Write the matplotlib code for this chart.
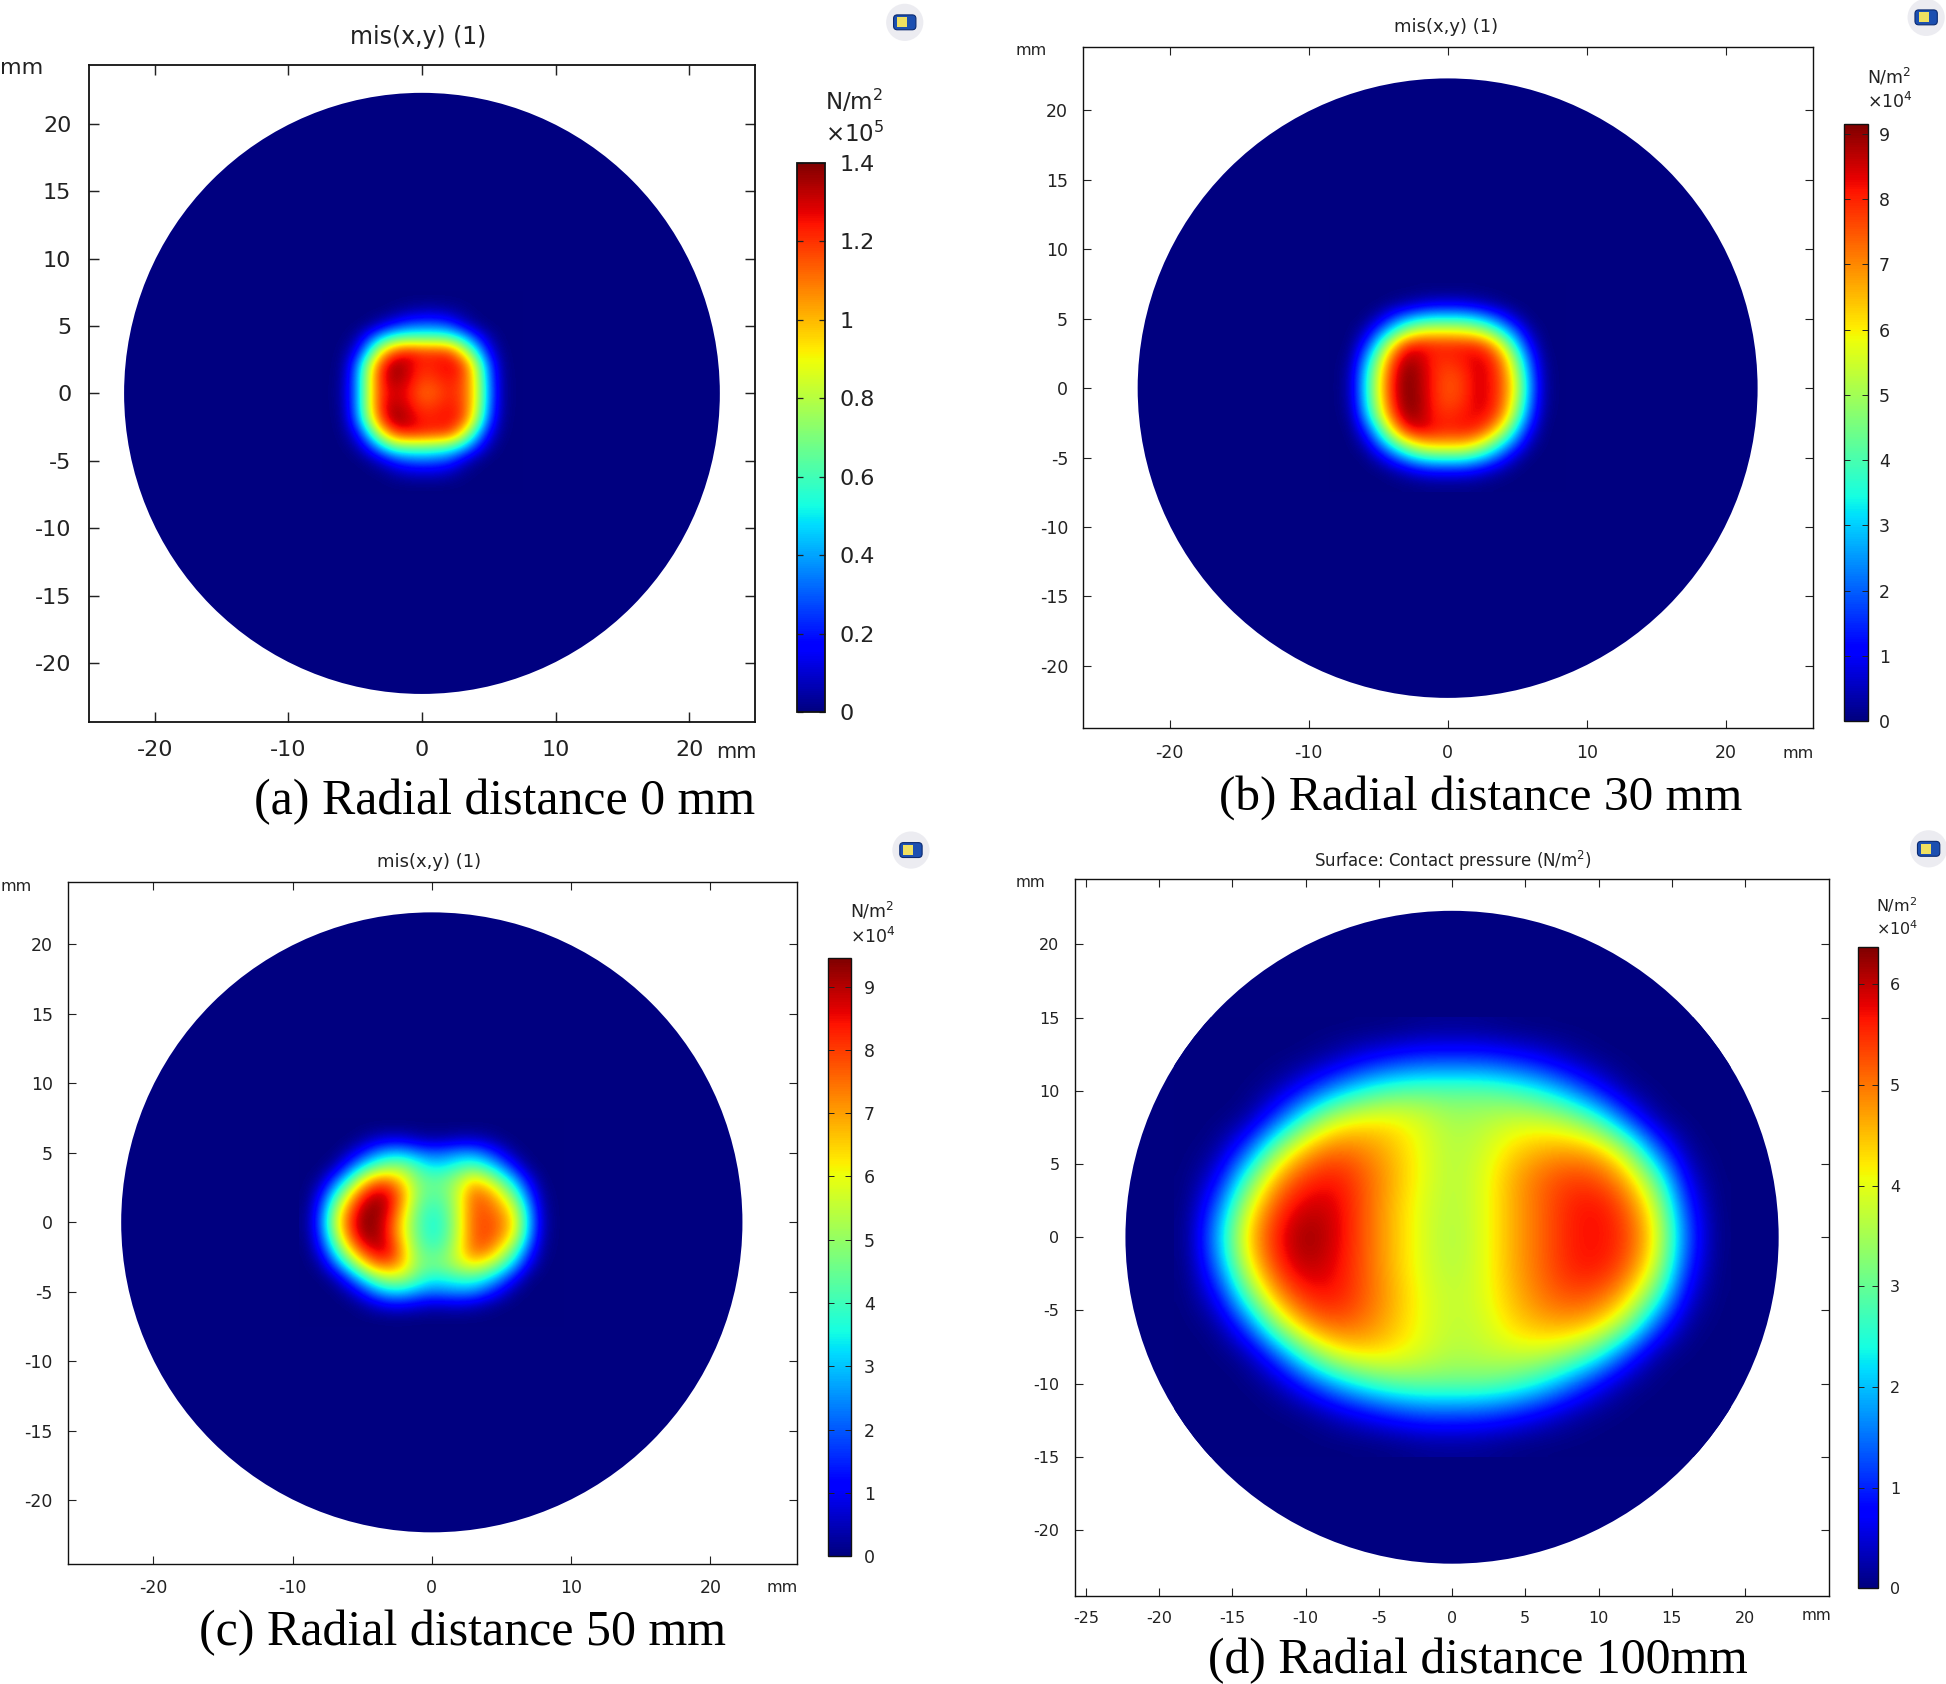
import matplotlib
matplotlib.use("Agg")
import numpy as np
import matplotlib.pyplot as plt
from matplotlib import patches

plt.rcParams["axes.unicode_minus"] = False

# pressure fields, rows run from top (+y) to bottom (-y)
x_a = list(range(-7, 8))
y_a = list(range(7, -8, -1))
field_a = [
    [0,0,0,0,0,0,0,0,0,0,0,0,0,0,0],
    [0,0,0,0,0,.02,.05,.07,.07,.05,.02,0,0,0,0],
    [0,0,0,.02,.1,.2,.28,.3,.3,.25,.12,.03,0,0,0],
    [0,0,.04,.25,.5,.65,.68,.68,.68,.65,.5,.25,.06,0,0],
    [0,.01,.14,.52,.95,1.18,1.25,1.2,1.2,1.18,.92,.55,.16,.01,0],
    [0,.02,.28,.8,1.22,1.38,1.3,1.22,1.24,1.28,1.2,.82,.3,.02,0],
    [0,.03,.32,.85,1.25,1.36,1.28,1.18,1.2,1.24,1.18,.88,.34,.03,0],
    [0,.04,.32,.85,1.22,1.3,1.24,1.12,1.14,1.22,1.16,.9,.36,.03,0],
    [0,.03,.32,.85,1.25,1.34,1.27,1.18,1.2,1.24,1.18,.88,.34,.03,0],
    [0,.02,.28,.78,1.2,1.38,1.32,1.24,1.24,1.26,1.18,.8,.28,.02,0],
    [0,.01,.14,.5,.92,1.18,1.24,1.22,1.2,1.18,.92,.52,.15,.01,0],
    [0,0,.04,.22,.48,.68,.7,.7,.68,.62,.48,.24,.05,0,0],
    [0,0,0,.03,.12,.24,.3,.32,.3,.26,.12,.03,0,0,0],
    [0,0,0,0,.01,.05,.08,.09,.09,.06,.02,0,0,0,0],
    [0,0,0,0,0,0,0,0,0,0,0,0,0,0,0],
]

x_b = list(range(-8, 9))
y_b = list(range(7, -8, -1))
field_b = [
    [0,0,0,0,0,0,.01,.02,.02,.02,.01,0,0,0,0,0,0],
    [0,0,0,0,.15,.35,.6,.8,.85,.8,.6,.35,.12,0,0,0,0],
    [0,0,.02,.5,1.5,2.4,3,3.3,3.3,3.3,3,2.3,1.4,.45,.02,0,0],
    [0,0,.45,1.9,3.5,5,5.8,6,6,5.9,5.6,4.8,3.4,1.8,.35,0,0],
    [0,.05,1.3,3.5,6,7.9,8.2,8,8,8,8,7.3,5.6,3.2,1,.03,0],
    [0,.2,2.2,4.8,7.4,8.8,8.6,8,7.9,8.1,8.4,8.2,6.9,4.4,1.7,.12,0],
    [0,.35,2.8,5.4,7.9,9.1,8.8,8,7.6,7.8,8.4,8.3,7.3,5.1,2.1,.22,0],
    [0,.4,2.9,5.6,8,9.15,8.8,8,7.5,7.7,8.4,8.3,7.4,5.4,2.3,.25,0],
    [0,.35,2.8,5.4,7.9,9.1,8.9,8,7.6,7.8,8.4,8.3,7.3,5.1,2.1,.22,0],
    [0,.2,2.3,4.9,7.4,8.9,8.8,8.1,7.9,8.1,8.3,8.1,6.9,4.4,1.7,.12,0],
    [0,.05,1.3,3.5,6,8,8.5,8.2,8,8.1,8,7.2,5.5,3.1,1,.03,0],
    [0,0,.45,2,3.8,5.4,6.4,6.7,6.7,6.7,6.2,5,3.4,1.8,.35,0,0],
    [0,0,.03,.6,1.6,2.7,3.5,3.9,3.9,3.9,3.4,2.6,1.5,.45,.02,0,0],
    [0,0,0,.02,.25,.6,1,1.2,1.2,1.2,1,.6,.25,.02,0,0,0],
    [0,0,0,0,0,.02,.05,.08,.08,.08,.05,.02,0,0,0,0,0],
]

x_c = list(range(-9, 10))
y_c = list(range(7, -8, -1))
field_c = [
    [0,0,0,0,0,0,0,0,0,0,0,0,0,0,0,0,0,0,0],
    [0,0,0,0,.2,.55,.75,.7,.45,.3,.35,.5,.5,.35,.1,0,0,0,0],
    [0,0,0,.45,1.3,2.3,2.9,2.9,2.4,2.1,2.2,2.5,2.5,1.9,1,.2,0,0,0],
    [0,0,.4,1.7,3.3,4.4,5,4.9,4.1,3.4,3.5,4,4.3,3.7,2.6,1.2,.15,0,0],
    [0,.3,1.8,3.8,5.9,7.4,7.4,6.3,4.8,4.4,4.6,5.4,6.5,5.8,4.5,2.9,1,.05,0],
    [0,1,3.4,5.8,8,9,8.6,7,5,4.3,4.6,5.8,7.5,7.3,6.1,4.3,1.9,.2,0],
    [.05,1.6,4.7,7.2,9,9.4,8.6,6.6,4.6,3.9,4.3,5.8,7.6,7.7,7,5.6,2.7,.35,0],
    [.1,1.9,5.2,7.7,9.3,9.3,8.2,6.1,4.4,3.6,4.1,5.8,7.6,7.9,7.4,6.1,3,.45,0],
    [.05,1.6,4.6,7.3,9,9.3,8.2,6.2,4.5,3.7,4.2,5.8,7.6,7.9,7.2,5.7,2.7,.35,0],
    [0,1,3.4,5.9,7.9,8.8,8.6,6.7,4.8,4.2,4.6,6,7.5,7.4,6.1,4.3,1.8,.2,0],
    [0,.3,1.9,3.9,5.9,7.4,7.6,6.6,5,4.6,4.9,5.6,6.2,5.6,4.5,2.8,.9,.05,0],
    [0,0,.4,1.7,3.3,4.7,5.4,5.2,4.3,3.6,3.7,4,4,3.5,2.4,1.1,.1,0,0],
    [0,0,0,.4,1.3,2.4,3.1,3.1,2.6,2.3,2.4,2.5,2.4,1.7,.9,.15,0,0,0],
    [0,0,0,0,.2,.6,.9,.9,.7,.5,.55,.6,.45,.25,.05,0,0,0,0],
    [0,0,0,0,0,0,0,0,0,0,0,0,0,0,0,0,0,0,0],
]

x_d = list(range(-18, 19, 2))
y_d = list(range(14, -15, -2))
field_d = [
    [0,0,0,0,0,0,0,.02,.08,.1,.08,.02,0,0,0,0,0,0,0],
    [0,0,0,0,.05,.3,.7,1,1.2,1.2,1.2,1,.7,.3,.05,0,0,0,0],
    [0,0,0,.2,.9,1.8,2.5,2.9,3,3,3,2.8,2.4,1.7,.8,.1,0,0,0],
    [0,0,.1,1.2,2.8,3.9,4.2,4.2,3.9,3.5,3.6,3.8,3.8,3.5,2.7,1.2,.1,0,0],
    [0,.1,1.2,3.3,4.6,5.1,4.9,4.5,4,3.6,3.8,4.3,4.6,4.7,4.5,3.4,1.3,.1,0],
    [0,.6,2.8,4.7,5.5,5.7,5.2,4.6,4,3.6,3.9,4.6,5.1,5.4,5.3,4.6,2.9,.5,0],
    [0,1.4,3.9,5.4,6,5.9,5.2,4.5,3.9,3.6,3.9,4.6,5.1,5.6,5.75,5.2,3.8,1,0],
    [.02,1.9,4.4,5.7,6.33,5.9,5.2,4.5,3.9,3.55,3.9,4.6,5.1,5.6,5.75,5.4,4.1,1.3,0],
    [0,1.5,4,5.5,6.1,5.8,5.2,4.5,3.9,3.6,3.9,4.6,5.1,5.6,5.7,5.2,3.8,1,0],
    [0,.7,2.9,4.8,5.6,5.7,5.2,4.6,4,3.7,3.9,4.5,5,5.3,5.2,4.5,2.8,.5,0],
    [0,.1,1.3,3.4,4.8,5.2,5,4.5,4,3.7,3.8,4.3,4.6,4.7,4.4,3.3,1.2,.1,0],
    [0,0,.15,1.3,2.9,4,4.3,4.2,3.9,3.6,3.7,3.8,3.8,3.4,2.6,1.1,.1,0,0],
    [0,0,0,.2,1,1.9,2.6,3,3.1,3.1,3.1,2.9,2.4,1.6,.7,.1,0,0,0],
    [0,0,0,0,.05,.35,.7,1.05,1.3,1.3,1.25,1,.65,.25,.05,0,0,0,0],
    [0,0,0,0,0,0,0,.03,.1,.12,.1,.03,0,0,0,0,0,0,0],
]

# colour scale maxima, in the unit of each bar
scale_max = [1.4, 9.15, 9.45, 6.37]
bar_ticks_a = [0, 0.2, 0.4, 0.6, 0.8, 1, 1.2, 1.4]
bar_labels_a = ["0", "0.2", "0.4", "0.6", "0.8", "1", "1.2", "1.4"]
bar_ticks_b = [0, 1, 2, 3, 4, 5, 6, 7, 8, 9]
bar_ticks_d = [0, 1, 2, 3, 4, 5, 6]

titles = ["mis(x,y) (1)", "mis(x,y) (1)", "mis(x,y) (1)", "Surface: Contact pressure (N/m$^{2}$)"]
captions = ["(a) Radial distance 0 mm", "(b) Radial distance 30 mm",
            "(c) Radial distance 50 mm", "(d) Radial distance 100mm"]
exponents = ["5", "4", "4", "4"]

RADIUS = 22.3
W, H = 1946, 1684
SX, SY = W / 1568.0, H / 1357.0

fig = plt.figure(figsize=(W / 100.0, H / 100.0), dpi=100, facecolor="white")


def px_axes(x0, y0, x1, y1):
    # positions are taken in the coordinates of the shrunk reference
    return fig.add_axes([x0 * SX / W, 1 - y1 * SY / H, (x1 - x0) * SX / W, (y1 - y0) * SY / H])


def draw_panel(box, xlim, ylim, xs, ys, field, vmax, xticks, yticks, fs, lw, ticklen, pad):
    ax = px_axes(*box)
    cmap = plt.get_cmap("jet")
    disc = patches.Circle((0, 0), RADIUS, facecolor=cmap(0.0), edgecolor="none", zorder=1)
    ax.add_patch(disc)
    dx = abs(xs[1] - xs[0])
    dy = abs(ys[1] - ys[0])
    im = ax.imshow(np.array(field, dtype=float), cmap=cmap, vmin=0, vmax=vmax,
                   extent=(xs[0] - dx / 2, xs[-1] + dx / 2, ys[-1] - dy / 2, ys[0] + dy / 2),
                   origin="upper", aspect="auto", interpolation="bicubic",
                   interpolation_stage="data", zorder=2)
    im.set_clip_path(disc)
    ax.set_xlim(*xlim)
    ax.set_ylim(*ylim)
    ax.set_xticks(xticks)
    ax.set_yticks(yticks)
    ax.tick_params(direction="in", top=True, right=True, length=ticklen, width=lw * 0.8,
                   labelsize=fs, pad=pad, colors="#222222")
    for s in ax.spines.values():
        s.set_linewidth(lw)
        s.set_color("#111111")
    return ax, im


def draw_bar(box, im, ticks, labels, fs, lw, pad):
    cax = px_axes(*box)
    cb = fig.colorbar(im, cax=cax)
    cb.set_ticks(ticks)
    cb.set_ticklabels(labels)
    cax.tick_params(direction="in", left=True, right=True, length=4, width=lw * 0.7,
                    labelsize=fs, pad=pad, colors="#222222")
    cb.outline.set_linewidth(lw)
    cb.outline.set_edgecolor("#111111")


ticks20 = [-20, -10, 0, 10, 20]
yticks = list(range(-20, 21, 5))

ax_a, im_a = draw_panel((72, 52, 608, 582), (-24.9, 24.9), (-24.4, 24.4), x_a, y_a, field_a,
                        scale_max[0], ticks20, yticks, 16, 1.3, 7, 13)
ax_b, im_b = draw_panel((873, 38, 1461, 587), (-26.2, 26.3), (-24.5, 24.55), x_b, y_b, field_b,
                        scale_max[1], ticks20, yticks, 12.5, 1.0, 6, 11)
ax_c, im_c = draw_panel((55, 711, 642, 1260), (-26.1, 26.2), (-24.55, 24.46), x_c, y_c, field_c,
                        scale_max[2], ticks20, yticks, 12.5, 1.0, 6, 11)
ax_d, im_d = draw_panel((866, 708, 1474, 1286), (-25.76, 25.76), (-24.5, 24.5), x_d, y_d, field_d,
                        scale_max[3], list(range(-25, 21, 5)), yticks, 11.5, 1.0, 6, 11)

draw_bar((642, 131, 665, 574), im_a, bar_ticks_a, bar_labels_a, 16, 1.3, 10)
draw_bar((1486, 100, 1505, 581), im_b, bar_ticks_b, [str(t) for t in bar_ticks_b], 12.5, 1.0, 8)
draw_bar((667, 772, 686, 1254), im_c, bar_ticks_b, [str(t) for t in bar_ticks_b], 12.5, 1.0, 9)
draw_bar((1497, 763, 1513, 1280), im_d, bar_ticks_d, [str(t) for t in bar_ticks_d], 11.5, 1.0, 9)

# overlay in shrunk-reference coordinates for the free text and the little logos
ov = fig.add_axes([0, 0, 1, 1], zorder=5)
ov.set_xlim(0, 1568)
ov.set_ylim(1357, 0)
ov.axis("off")
ov.patch.set_alpha(0)

INK = "#222222"
ov.text(337, 30, titles[0], ha="center", va="center", fontsize=17, color=INK)
ov.text(1165, 22, titles[1], ha="center", va="center", fontsize=13, color=INK)
ov.text(346, 695, titles[2], ha="center", va="center", fontsize=13, color=INK)
ov.text(1171, 694, titles[3], ha="center", va="center", fontsize=12, color=INK)

ov.text(0, 55, "mm", ha="left", va="center", fontsize=16, color=INK)
ov.text(818, 41, "mm", ha="left", va="center", fontsize=11.5, color=INK)
ov.text(0, 714, "mm", ha="left", va="center", fontsize=11.5, color=INK)
ov.text(818, 711, "mm", ha="left", va="center", fontsize=11, color=INK)

ov.text(610, 606, "mm", ha="right", va="center", fontsize=15, color=INK)
ov.text(1449, 607, "mm", ha="center", va="center", fontsize=11.5, color=INK)
ov.text(630, 1279, "mm", ha="center", va="center", fontsize=11.5, color=INK)
ov.text(1464, 1302, "mm", ha="center", va="center", fontsize=11, color=INK)

ov.text(665, 82, "N/m$^{2}$", ha="left", va="center", fontsize=16.5, color=INK)
ov.text(665, 108, "×10$^{%s}$" % exponents[0], ha="left", va="center", fontsize=16.5, color=INK)
ov.text(1504, 62, "N/m$^{2}$", ha="left", va="center", fontsize=12.5, color=INK)
ov.text(1504, 82, "×10$^{%s}$" % exponents[1], ha="left", va="center", fontsize=12.5, color=INK)
ov.text(685, 734, "N/m$^{2}$", ha="left", va="center", fontsize=12.5, color=INK)
ov.text(685, 755, "×10$^{%s}$" % exponents[2], ha="left", va="center", fontsize=12.5, color=INK)
ov.text(1512, 729, "N/m$^{2}$", ha="left", va="center", fontsize=11.5, color=INK)
ov.text(1512, 748, "×10$^{%s}$" % exponents[3], ha="left", va="center", fontsize=11.5, color=INK)

serif = ["Liberation Serif", "DejaVu Serif"]
ov.text(205, 646, captions[0], ha="left", va="center", fontsize=35.9, family=serif, color="black")
ov.text(982, 643, captions[1], ha="left", va="center", fontsize=35.6, family=serif, color="black")
ov.text(160, 1316, captions[2], ha="left", va="center", fontsize=36, family=serif, color="black")
ov.text(973, 1338, captions[3], ha="left", va="center", fontsize=35.8, family=serif, color="black")

for cx, cy in [(729, 18), (1552, 14), (734, 685), (1554, 684)]:
    ov.add_patch(patches.Circle((cx, cy), 15, facecolor="#e8e8ee", edgecolor="none", alpha=0.8))
    ov.add_patch(patches.FancyBboxPatch((cx - 9, cy - 6), 18, 12, boxstyle="round,pad=0,rounding_size=3",
                                        facecolor="#1c4fb0", edgecolor="#0b2a70", linewidth=0.8))
    ov.add_patch(patches.Rectangle((cx - 6, cy - 4), 8, 8, facecolor="#f0e060", edgecolor="none"))

fig.savefig("out.png", dpi=100, facecolor="white")
